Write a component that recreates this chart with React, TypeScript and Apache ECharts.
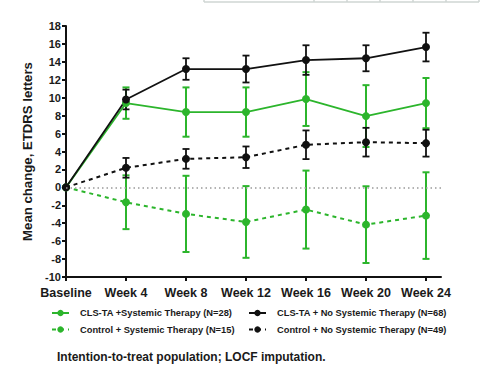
import React, { useEffect, useRef } from "react";
import * as echarts from "echarts";

const categories = ["Baseline", "Week 4", "Week 8", "Week 12", "Week 16", "Week 20", "Week 24"];
const xPositions = [0, 1, 2, 3, 4, 5, 6];

const clsSysName = "CLS-TA +Systemic Therapy (N=28)";
const clsNoName = "CLS-TA + No Systemic Therapy (N=68)";
const ctlSysName = "Control + Systemic Therapy (N=15)";
const ctlNoName = "Control + No Systemic Therapy (N=49)";

const clsSysMean = [0, 9.4, 8.4, 8.4, 9.85, 7.95, 9.4];
const clsSysErr = [0, 1.75, 2.75, 2.75, 3.0, 3.45, 2.8];
const clsNoMean = [0, 9.8, 13.2, 13.2, 14.2, 14.4, 15.65];
const clsNoErr = [0, 1.1, 1.2, 1.5, 1.65, 1.45, 1.6];
const ctlSysMean = [0, -1.66, -2.96, -3.86, -2.48, -4.16, -3.15];
const ctlSysErr = [0, 3.0, 4.25, 4.0, 4.35, 4.28, 4.83];
const ctlNoMean = [0, 2.18, 3.18, 3.36, 4.75, 5.04, 4.93];
const ctlNoErr = [0, 1.1, 1.1, 1.2, 1.6, 1.6, 1.5];

const GREEN = "#2cb52c";
const BLACK = "#111111";
const FONT = "Liberation Sans, Arial, sans-serif";

function lineData(mean: number[]) {
  return xPositions.map((x, i) => [x, mean[i]]);
}
function errData(mean: number[], err: number[]) {
  return xPositions
    .map((x, i) => [x, mean[i] - err[i], mean[i] + err[i]])
    .filter((_, i) => err[i] > 0);
}

function errSeries(name: string, mean: number[], err: number[], color: string, lw: number) {
  return {
    type: "custom",
    name,
    silent: true,
    data: errData(mean, err),
    encode: { x: 0, y: [1, 2] },
    renderItem: (params: any, api: any) => {
      const x = api.value(0);
      const top = api.coord([x, api.value(2)]);
      const bot = api.coord([x, api.value(1)]);
      const w = 3.5;
      const style = { stroke: color, lineWidth: lw };
      return {
        type: "group",
        children: [
          { type: "line", shape: { x1: top[0], y1: top[1], x2: bot[0], y2: bot[1] }, style },
          { type: "line", shape: { x1: top[0] - w, y1: top[1], x2: top[0] + w, y2: top[1] }, style },
          { type: "line", shape: { x1: bot[0] - w, y1: bot[1], x2: bot[0] + w, y2: bot[1] }, style },
        ],
      };
    },
  };
}

function lineSeries(name: string, mean: number[], color: string, dashed: boolean, extra: any = {}) {
  return {
    type: "line",
    name,
    data: lineData(mean),
    symbol: "circle",
    symbolSize: 8,
    itemStyle: { color },
    lineStyle: { color, width: dashed ? 2 : 1.8, type: dashed ? [4, 4] : "solid" },
    ...extra,
  };
}

export default function App() {
  const ref = useRef<HTMLDivElement>(null);
  useEffect(() => {
    if (!ref.current) return;
    const chart = echarts.init(ref.current, undefined, { renderer: "svg" });
    const boxY = 2;
    const boxXs = [204, 314, 347, 380, 413, 446, 479];
    const boxStyle = { stroke: "#cfd6d3", lineWidth: 1.5 };
    const legendText = {
      color: "#1a1a1a",
      fontFamily: FONT,
      fontWeight: "bold",
      fontSize: 9.3,
      lineHeight: 12,
      padding: [0, 0, 0, 6],
    };
    const option: any = {
      animation: false,
      backgroundColor: "#ffffff",
      grid: { left: 66, right: 48, top: 26, bottom: 104 },
      xAxis: {
        type: "value",
        min: 0,
        max: 6.25,
        splitLine: { show: false },
        axisLine: { show: true, onZero: false, lineStyle: { color: BLACK, width: 2 } },
        axisTick: { show: true, length: 4, customValues: xPositions, lineStyle: { color: BLACK, width: 2 } },
        axisLabel: {
          customValues: xPositions,
          formatter: (v: number) => categories[Math.round(v)] ?? "",
          color: "#1a1a1a",
          fontFamily: FONT,
          fontWeight: "bold",
          fontSize: 12.5,
          margin: 9,
        },
      },
      yAxis: {
        type: "value",
        min: -10,
        max: 18,
        interval: 2,
        splitLine: { show: false },
        axisLine: { show: true, lineStyle: { color: BLACK, width: 2 } },
        axisTick: { show: true, length: 4, lineStyle: { color: BLACK, width: 2 } },
        axisLabel: { color: "#1a1a1a", fontFamily: FONT, fontWeight: "bold", fontSize: 11, margin: 5 },
        name: "Mean change, ETDRS letters",
        nameLocation: "middle",
        nameRotate: 90,
        nameGap: 29,
        nameTextStyle: { color: "#1a1a1a", fontFamily: FONT, fontWeight: "bold", fontSize: 13.2 },
      },
      legend: [
        {
          orient: "vertical",
          left: 46,
          top: 302,
          itemWidth: 17,
          itemHeight: 8,
          itemGap: 4.5,
          data: [clsSysName, ctlSysName],
          textStyle: legendText,
        },
        {
          orient: "vertical",
          left: 243,
          top: 302,
          itemWidth: 17,
          itemHeight: 8,
          itemGap: 4.5,
          data: [clsNoName, ctlNoName],
          textStyle: legendText,
        },
      ],
      graphic: [
        {
          type: "text",
          left: 57,
          top: 351,
          style: {
            text: "Intention-to-treat population; LOCF imputation.",
            fill: "#1a1a1a",
            font: `bold 12px ${FONT}`,
          },
        },
        { type: "line", shape: { x1: boxXs[0], y1: 0, x2: boxXs[boxXs.length - 1], y2: 0 }, style: boxStyle, z: 0, y: boxY },
        ...boxXs.map((x) => ({ type: "line", shape: { x1: x, y1: -2, x2: x, y2: boxY }, style: boxStyle })),
      ],
      series: [
        errSeries("errCtlSys", ctlSysMean, ctlSysErr, GREEN, 2),
        lineSeries(ctlSysName, ctlSysMean, GREEN, true, {
          markLine: {
            silent: true,
            symbol: "none",
            label: { show: false },
            lineStyle: { color: "#9a9a9a", type: [1.5, 3], width: 1.5 },
            data: [{ yAxis: 0 }],
          },
        }),
        errSeries("errClsSys", clsSysMean, clsSysErr, GREEN, 2),
        lineSeries(clsSysName, clsSysMean, GREEN, false),
        errSeries("errCtlNo", ctlNoMean, ctlNoErr, BLACK, 1.8),
        lineSeries(ctlNoName, ctlNoMean, BLACK, true),
        errSeries("errClsNo", clsNoMean, clsNoErr, BLACK, 1.8),
        lineSeries(clsNoName, clsNoMean, BLACK, false),
      ],
    };
    chart.setOption(option);
    return () => chart.dispose();
  }, []);
  return (
    <div
      ref={ref}
      style={{ position: "absolute", left: 0, top: 0, width: 489, height: 381, background: "#fff" }}
    />
  );
}
